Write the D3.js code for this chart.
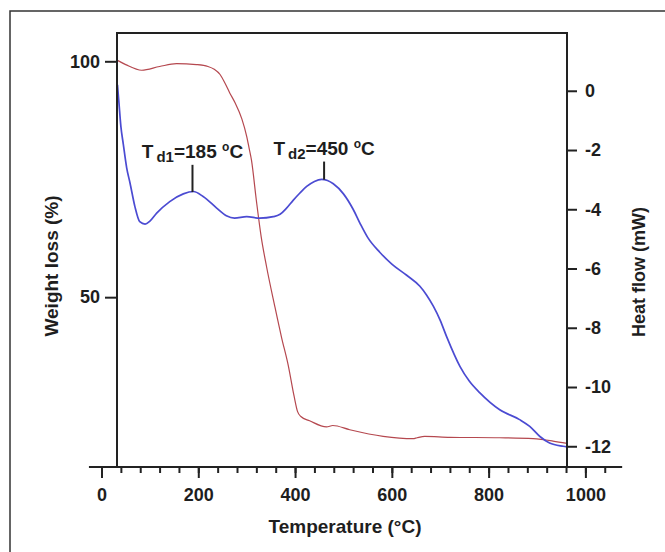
<!DOCTYPE html>
<html>
<head>
<meta charset="utf-8">
<script src="https://cdn.jsdelivr.net/npm/d3@7"></script>
<style>
  body { margin: 0; background: #fff; }
  text { font-family: "Liberation Sans", Arial, sans-serif; font-weight: bold; fill: #1e1e1e; }
</style>
</head>
<body>
<svg width="665" height="552"></svg>
<script>
// weight loss (TGA) curve, left axis
const weightTemp = [33, 50, 83, 120, 155, 196, 220, 233, 245, 255, 265, 276, 290, 300, 305, 310, 320, 330, 341, 358, 372, 386, 398, 405, 412, 430, 465, 478, 513, 582, 644, 652, 668, 720, 823, 892, 933, 962]
const weightVal = [100.2, 99.3, 98.1, 98.9, 99.5, 99.3, 98.9, 98.3, 97.2, 95.4, 93.3, 91.2, 87.8, 84.1, 81.6, 79.0, 70.5, 62.8, 56.5, 48.1, 41.5, 35.5, 29.0, 25.8, 24.7, 23.8, 22.5, 22.8, 21.9, 20.5, 20.0, 20.2, 20.5, 20.3, 20.2, 20.0, 19.5, 19.0]

// heat flow (DSC) curve, right axis
const heatTemp = [33, 36, 40, 45, 52, 59, 69, 79, 90, 100, 114, 141, 169, 190, 210, 238, 258, 275, 300, 327, 355, 369, 382, 396, 410, 424, 440, 455, 467, 479, 500, 520, 535, 550, 575, 600, 630, 658, 672, 686, 700, 713, 741, 760, 782, 823, 864, 885, 906, 926, 954, 962]
const heatVal = [0.2, -0.4, -1.2, -1.8, -2.6, -3.12, -3.91, -4.42, -4.5, -4.4, -4.13, -3.74, -3.48, -3.4, -3.57, -3.96, -4.22, -4.3, -4.25, -4.3, -4.25, -4.17, -3.97, -3.7, -3.45, -3.23, -3.06, -2.99, -3.03, -3.14, -3.48, -4.0, -4.5, -4.95, -5.45, -5.85, -6.22, -6.6, -6.9, -7.28, -7.75, -8.29, -9.31, -9.8, -10.2, -10.77, -11.1, -11.33, -11.67, -11.89, -12.0, -12.02]

const tempTicks = [0, 200, 400, 600, 800, 1000]
const tempMinorTicks = d3.range(0, 1041, 40)
const weightTicks = [50, 100]
const heatTicks = [0, -2, -4, -6, -8, -10, -12]

// peak labels
const peakNames = ['d1', 'd2']
const peakValues = ['185', '450']
const peakMarkTemp = [188, 460]
const peakMarkTop = [-2.5, -2.39]
const peakMarkBottom = [-3.42, -3.0]

const svg = d3.select('svg')
const plotLeft = 117, plotRight = 567, plotTop = 33, plotBottom = 467

const x = d3.scaleLinear().domain([32, 962]).range([plotLeft, plotRight])
const yW = d3.scaleLinear().domain([14, 106]).range([plotBottom, plotTop])
const yH = d3.scaleLinear().domain([-12.7, 1.95]).range([plotBottom, plotTop])

// outer border
svg.append('rect')
  .attr('x', 10).attr('y', 11).attr('width', 700).attr('height', 600)
  .attr('fill', 'none').attr('stroke', '#333').attr('stroke-width', 1.5)

// curves
const weightLine = d3.line().x((d, i) => x(weightTemp[i])).y(d => yW(d)).curve(d3.curveMonotoneX)
const heatLine = d3.line().x((d, i) => x(heatTemp[i])).y(d => yH(d)).curve(d3.curveMonotoneX)

svg.append('path').datum(weightVal)
  .attr('d', weightLine)
  .attr('fill', 'none').attr('stroke', '#b5484f').attr('stroke-width', 1.2)

svg.append('path').datum(heatVal)
  .attr('d', heatLine)
  .attr('fill', 'none').attr('stroke', '#4b4bd2').attr('stroke-width', 1.7)

// frame
const frame = svg.append('g').attr('stroke', '#222').attr('stroke-width', 2)
frame.append('line').attr('x1', plotLeft).attr('x2', plotLeft).attr('y1', plotTop - 1).attr('y2', plotBottom)
frame.append('line').attr('x1', plotLeft).attr('x2', plotRight).attr('y1', plotTop).attr('y2', plotTop)
frame.append('line').attr('x1', plotRight).attr('x2', plotRight).attr('y1', plotTop - 1).attr('y2', plotBottom)
frame.append('line').attr('x1', x(-26)).attr('x2', x(1076)).attr('y1', plotBottom).attr('y2', plotBottom)

// x axis
const xMinor = svg.append('g').attr('transform', `translate(0,${plotBottom})`)
  .call(d3.axisBottom(x).tickValues(tempMinorTicks).tickSize(6).tickFormat(''))
const xMajor = svg.append('g').attr('transform', `translate(0,${plotBottom})`)
  .call(d3.axisBottom(x).tickValues(tempTicks).tickSize(11).tickPadding(10).tickFormat(d => String(d)))

// left axis
const yLeft = svg.append('g').attr('transform', `translate(${plotLeft},0)`)
  .call(d3.axisLeft(yW).tickValues(weightTicks).tickSize(12).tickPadding(5).tickFormat(d => String(d)))

// right axis
const yRight = svg.append('g').attr('transform', `translate(${plotRight},0)`)
  .call(d3.axisRight(yH).tickValues(heatTicks).tickSize(10).tickPadding(8).tickFormat(d => String(d)))

;[xMinor, xMajor, yLeft, yRight].forEach(g => {
  g.select('.domain').remove()
  g.selectAll('.tick line').attr('stroke', '#222').attr('stroke-width', 2)
  g.selectAll('.tick text').attr('font-size', 18).attr('fill', '#1e1e1e')
    .style('font-family', '"Liberation Sans", Arial, sans-serif').style('font-weight', 'bold')
})

// axis titles
svg.append('text')
  .attr('x', 345).attr('y', 533)
  .attr('text-anchor', 'middle').attr('font-size', 19)
  .text('Temperature (°C)')

svg.append('text')
  .attr('transform', 'translate(58,266) rotate(-90)')
  .attr('text-anchor', 'middle').attr('font-size', 19)
  .text('Weight loss (%)')

svg.append('text')
  .attr('transform', 'translate(645,272) rotate(-90)')
  .attr('text-anchor', 'middle').attr('font-size', 18)
  .text('Heat flow (mW)')

// peak markers
peakMarkTemp.forEach((t, i) => {
  svg.append('line')
    .attr('x1', x(t)).attr('x2', x(t))
    .attr('y1', yH(peakMarkTop[i])).attr('y2', yH(peakMarkBottom[i]))
    .attr('stroke', '#222').attr('stroke-width', 2)

  const label = svg.append('text')
    .attr('x', x(t)).attr('y', yH(peakMarkTop[i]) - 7)
    .attr('text-anchor', 'middle').attr('font-size', 19)
  label.append('tspan').text('T')
  label.append('tspan').attr('font-size', 15).attr('dx', 3).attr('dy', 4).text(peakNames[i])
  label.append('tspan').attr('dy', -4).text('=' + peakValues[i] + ' ')
  label.append('tspan').attr('font-size', 12).attr('dy', -7).text('o')
  label.append('tspan').attr('dy', 7).text('C')
})
</script>
</body>
</html>
